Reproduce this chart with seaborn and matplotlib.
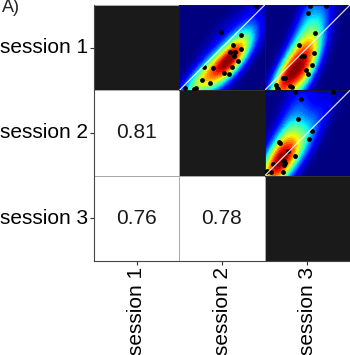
import numpy as np
import pandas as pd
import matplotlib
matplotlib.use('Agg')
import matplotlib.pyplot as plt
from matplotlib.colors import ListedColormap
import seaborn as sns

sns.set_theme(style='white')
plt.rcParams['font.family'] = ['Liberation Sans', 'DejaVu Sans']

sessions = ['session 1', 'session 2', 'session 3']

# pairwise correlations shown in the lower triangle
corr_21 = 0.81
corr_31 = 0.76
corr_32 = 0.78

# scatter points for the upper triangle (normalised units)
s12_x = [0.894, 0.490, 0.718, 0.627, 0.725, 0.596, 0.655, 0.635, 0.690,
         0.392, 0.612, 0.522, 0.580, 0.263, 0.361, 0.196, 0.176, 0.070, 0.286]
s12_y = [0.988, 0.686, 0.647, 0.537, 0.482, 0.451, 0.451, 0.404, 0.345,
         0.267, 0.278, 0.204, 0.196, 0.118, 0.090, 0.031, 0.020, 0.024, 0.275]

s13_x = [0.529, 0.714, 0.502, 0.584, 0.404, 0.463, 0.424, 0.576, 0.557,
         0.482, 0.502, 0.216, 0.239, 0.302, 0.325, 0.137, 0.149, 0.161]
s13_y = [0.988, 0.988, 0.902, 0.671, 0.537, 0.404, 0.400, 0.443, 0.298,
         0.235, 0.188, 0.145, 0.145, 0.047, 0.039, 0.059, 0.031, 0.012]

s23_x = [0.353, 0.796, 0.424, 0.392, 0.549, 0.522, 0.165, 0.176, 0.275,
         0.361, 0.227, 0.235, 0.224, 0.098, 0.027, 0.012, 0.078, 0.216]
s23_y = [0.980, 0.980, 0.902, 0.659, 0.522, 0.431, 0.392, 0.384, 0.294,
         0.227, 0.176, 0.145, 0.129, 0.137, 0.059, 0.039, 0.039, 0.039]

pairs = {(0, 1): (s12_x, s12_y), (0, 2): (s13_x, s13_y), (1, 2): (s23_x, s23_y)}

n = len(sessions)
is_diag = pd.DataFrame(np.eye(n), index=sessions, columns=sessions)
labels = [['', '', ''],
          [f'{corr_21:.2f}', '', ''],
          [f'{corr_31:.2f}', f'{corr_32:.2f}', '']]

fig = plt.figure(figsize=(3.5, 3.55), dpi=100)
ax = fig.add_axes([94 / 350, 1 - 261 / 355, 256 / 350, 256 / 355])

sns.heatmap(is_diag, ax=ax, cmap=ListedColormap(['white', '#1a1a1a']),
            cbar=False, annot=labels, fmt='', linewidths=0.7, linecolor='#aaaaaa',
            annot_kws={'fontsize': 15, 'color': '#1a1a1a'})
ax.tick_params(axis='both', length=3, width=0.8, color='#333333',
               labelsize=15, pad=1, bottom=True, left=True)
ax.set_xticklabels(sessions, rotation=90, color='black')
ax.set_yticklabels(sessions, rotation=0, color='black')
for side in ['left', 'bottom']:
    ax.spines[side].set_visible(True)
    ax.spines[side].set_color('#444444')
    ax.spines[side].set_linewidth(0.8)

# jet, but kept blue longer at low density so the blob stays compact
jet = matplotlib.colormaps['jet']
dens_cmap = ListedColormap(jet(np.linspace(0, 1, 256) ** 1.6))

for (i, j), (px, py) in pairs.items():
    iax = ax.inset_axes([j / n, 1 - (i + 1) / n, 1 / n, 1 / n])
    iax.set_facecolor(jet(0.0))
    sns.kdeplot(x=px, y=py, ax=iax, fill=True, cmap=dens_cmap, levels=40,
                thresh=0, bw_adjust=1.45, gridsize=120)
    iax.scatter(px, py, s=12, color='black', zorder=3, linewidths=0)
    iax.axline((0, 0), slope=1, color='white', lw=0.9, alpha=0.85, zorder=4)
    iax.set_xlim(0, 1)
    iax.set_ylim(0, 1)
    iax.set_xticks([])
    iax.set_yticks([])
    iax.set_xlabel('')
    iax.set_ylabel('')
    for sp in iax.spines.values():
        sp.set_color('#1a1a1a')
        sp.set_linewidth(0.6)

fig.text(0.006, 0.965, 'A)', fontsize=13, va='baseline', ha='left')

fig.savefig('out.png', dpi=100)
